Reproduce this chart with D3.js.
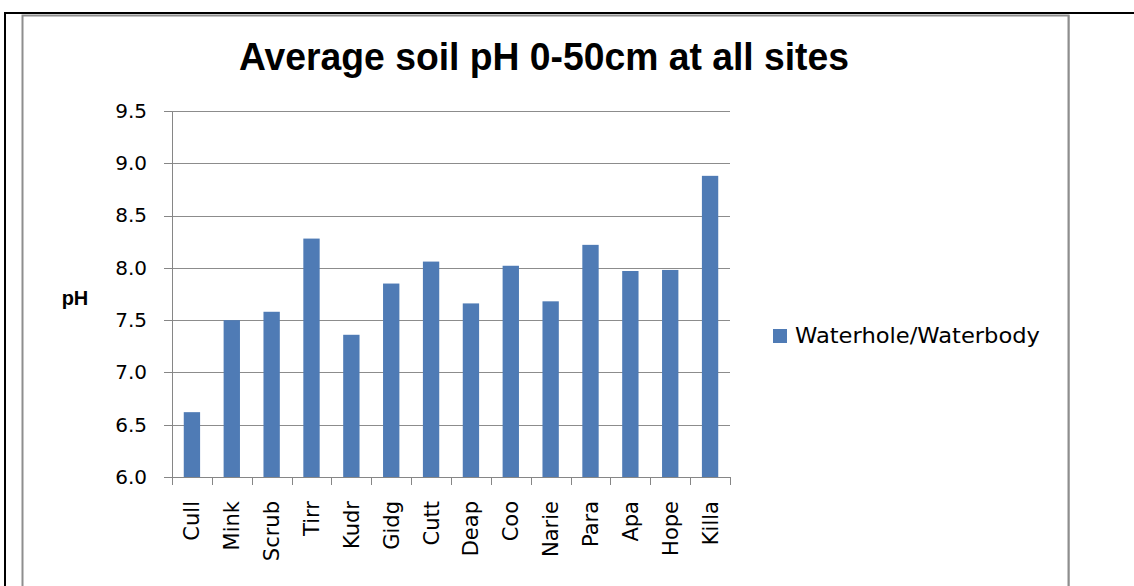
<!DOCTYPE html>
<meta charset="utf-8">
<html>
  <head>
    <title>Average soil pH</title>
    <script src="https://d3js.org/d3.v7.min.js"></script>
    <style type="text/css">
      body{
        margin: 0;
        background: #fff;
      }
      .axis path, .axis line{
        fill: none;
        stroke: #868686;
        shape-rendering: crispEdges;
      }
      .axis text{
        font-family: "DejaVu Sans", sans-serif;
        font-size: 20px;
        fill: #000;
      }
      .axis .xlab{
        font-size: 21px;
      }
      .grid line{
        stroke: #8c8c8c;
        shape-rendering: crispEdges;
      }
      .grid path{
        stroke: none;
      }
    </style>
  </head>
  <body>
    <div id="plot"></div>
  </body>

  <script>
    // data
    var sites = ["Cull","Mink","Scrub","Tirr","Kudr","Gidg","Cutt","Deap","Coo","Narie","Para","Apa","Hope","Killa"];
    var phValues = [6.62,7.50,7.58,8.28,7.36,7.85,8.06,7.66,8.02,7.68,8.22,7.97,7.98,8.88];
    var yTicks = [6.0,6.5,7.0,7.5,8.0,8.5,9.0,9.5];
    var seriesName = "Waterhole/Waterbody";
    var title = "Average soil pH 0-50cm at all sites";

    var W = 1134, H = 586;
    var plot = {left:172, right:730, top:111, bottom:477};
    var barColor = "#4f7bb5";

    var svg = d3.select("#plot").append("svg")
        .attr("width", W)
        .attr("height", H);

    // outer frame lines
    svg.append("line").attr("x1",4).attr("x2",W).attr("y1",13).attr("y2",13)
       .style("stroke","#000").style("stroke-width",2);
    svg.append("line").attr("x1",5).attr("x2",5).attr("y1",12).attr("y2",H)
       .style("stroke","#000").style("stroke-width",2);

    // chart area border (gray)
    svg.append("path")
       .attr("d","M22.5," + H + "V15.5H1068.5V" + H)
       .style("fill","none").style("stroke","#8e8e8e").style("stroke-width",2);
    svg.append("line").attr("x1",1069).attr("x2",1069).attr("y1",15).attr("y2",H)
       .style("stroke","#8e8e8e").style("stroke-width",1);

    var xScale = d3.scaleBand()
        .domain(sites)
        .range([plot.left, plot.right])
        .paddingInner(0.59)
        .paddingOuter(0.295);

    var yScale = d3.scaleLinear()
        .domain([6, 9.5])
        .range([plot.bottom, plot.top]);

    // gridlines
    svg.append("g")
       .attr("class","grid")
       .attr("transform","translate(" + plot.left + ",0)")
       .call(d3.axisLeft(yScale).tickValues(yTicks).tickSize(-(plot.right-plot.left)).tickFormat(""));

    // bars
    svg.selectAll(".bar")
       .data(sites)
      .enter().append("rect")
       .attr("class","bar")
       .attr("x", function(d){ return xScale(d); })
       .attr("width", xScale.bandwidth())
       .attr("y", function(d,i){ return yScale(phValues[i]); })
       .attr("height", function(d,i){ return yScale(6) - yScale(phValues[i]); })
       .style("fill", barColor);

    // y axis
    svg.append("g")
       .attr("class","axis")
       .attr("transform","translate(" + plot.left + ",0)")
       .call(d3.axisLeft(yScale).tickValues(yTicks).tickSize(8).tickSizeOuter(0).tickPadding(17)
             .tickFormat(d3.format(".1f")));

    // x axis: ticks sit on category boundaries
    var xAxisG = svg.append("g")
       .attr("class","axis")
       .attr("transform","translate(0," + plot.bottom + ")");
    xAxisG.append("line")
       .attr("x1", plot.left).attr("x2", plot.right)
       .attr("y1", 0.5).attr("y2", 0.5);
    var step = xScale.step();
    xAxisG.selectAll(".xtick")
       .data(d3.range(sites.length + 1))
      .enter().append("line")
       .attr("class","xtick")
       .attr("x1", function(i){ return Math.round(plot.left + i*step) + 0.5; })
       .attr("x2", function(i){ return Math.round(plot.left + i*step) + 0.5; })
       .attr("y1", 0).attr("y2", 8);
    xAxisG.selectAll(".xlab")
       .data(sites)
      .enter().append("text")
       .attr("class","xlab")
       .attr("transform", function(d){ return "translate(" + (xScale(d) + xScale.bandwidth()/2) + ",24) rotate(-90)"; })
       .attr("dy","0.36em")
       .style("text-anchor","end")
       .text(function(d){ return d; });

    // y axis label
    svg.append("text")
       .attr("x", 75)
       .attr("y", 305)
       .style("font-family","'Liberation Sans', Arial, sans-serif")
       .style("font-weight","bold")
       .style("font-size","20px")
       .style("text-anchor","middle")
       .text("pH");

    // title
    svg.append("text")
       .attr("x", 544)
       .attr("y", 70)
       .attr("textLength", 610)
       .attr("lengthAdjust","spacingAndGlyphs")
       .style("font-family","'Liberation Sans', Arial, sans-serif")
       .style("font-weight","bold")
       .style("font-size","39px")
       .style("text-anchor","middle")
       .text(title);

    // legend
    var legend = svg.append("g").attr("transform","translate(773,329)");
    legend.append("rect")
       .attr("width",14).attr("height",14)
       .style("fill", barColor);
    legend.append("text")
       .attr("x",22)
       .attr("y",14)
       .attr("textLength",245)
       .attr("lengthAdjust","spacingAndGlyphs")
       .style("font-family","'DejaVu Sans', sans-serif")
       .style("font-size","22px")
       .text(seriesName);
  </script>
</html>
